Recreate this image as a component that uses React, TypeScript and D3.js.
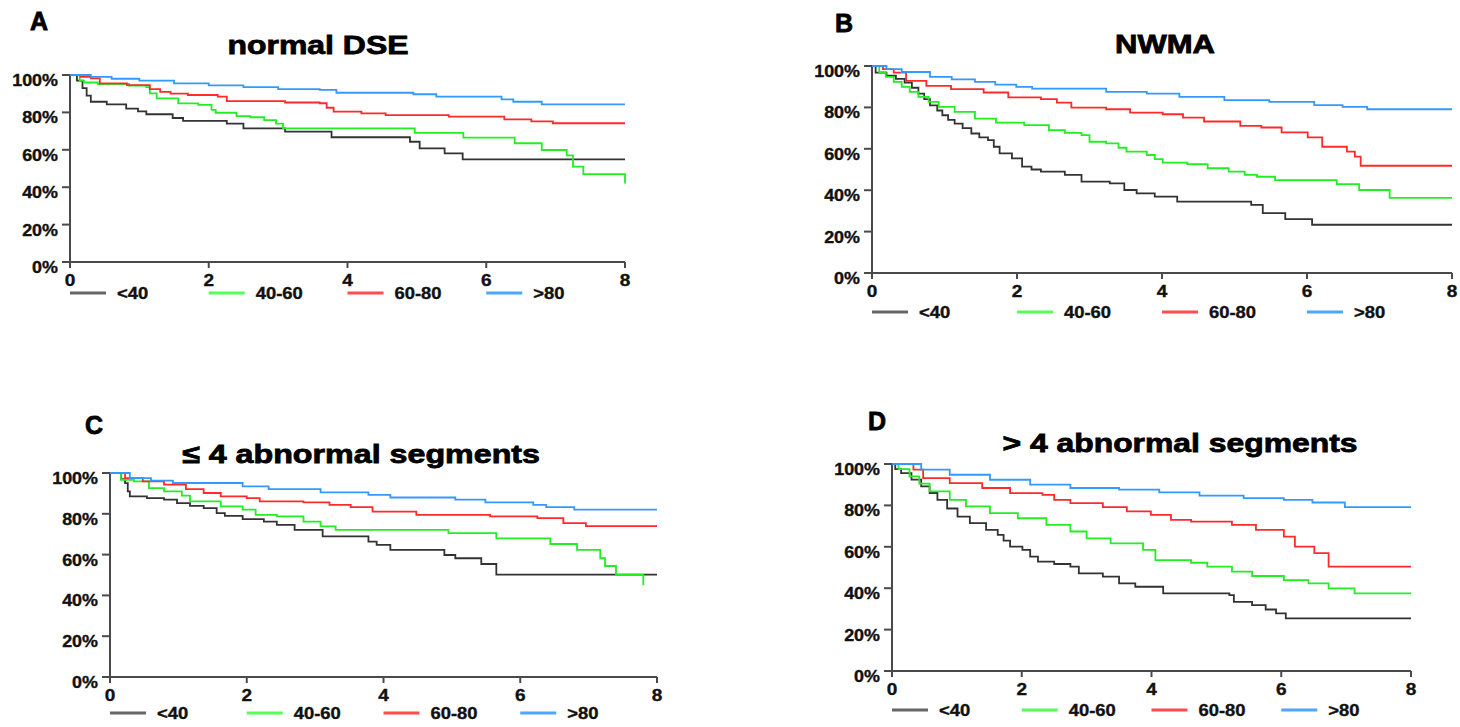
import React from 'react';
import * as d3 from 'd3';

type Pt = [number, number];

const groups = ['<40', '40-60', '60-80', '>80'];
const groupColors = ['#333333', '#22ee22', '#ff2a2a', '#3399ff'];
const legendColors = ['#666666', '#55ff55', '#ff4d4d', '#4da6ff'];
const xTicks = [0, 2, 4, 6, 8];
const yTicks = [0, 20, 40, 60, 80, 100];

// panel A - normal DSE
const aLt40: Pt[] = [[0, 100], [0.1, 97], [0.18, 93], [0.24, 89], [0.3, 85.7], [0.53, 84.3], [0.81, 82], [0.98, 80.5], [1.1, 79], [1.48, 77], [1.63, 75.5], [2.26, 74], [2.5, 71.5], [3.1, 69.7], [3.77, 66.7], [4.9, 64.3], [5.04, 60.8], [5.4, 58.1], [5.66, 54.9], [8, 54.9]];
const a40to60: Pt[] = [[0, 100], [0.14, 97], [0.2, 96], [0.4, 95.2], [0.85, 94.3], [1.1, 93.5], [1.15, 90.2], [1.25, 87.5], [1.56, 84.8], [1.85, 84], [2.04, 81.3], [2.1, 79.8], [2.4, 78], [2.6, 77.4], [2.8, 75.9], [2.97, 74], [3.07, 71.5], [4.97, 69.1], [5.67, 66.5], [6.41, 63.5], [6.8, 59.9], [7.16, 57], [7.25, 51], [7.4, 47], [8, 42]];
const a60to80: Pt[] = [[0, 100], [0.15, 99], [0.3, 98.2], [0.43, 95.5], [0.82, 94.6], [1.15, 92.5], [1.3, 91], [1.45, 90], [1.7, 89.3], [2.13, 88.4], [2.26, 86], [3.1, 85.3], [3.6, 84.9], [3.7, 82.5], [3.8, 80.4], [4.2, 79.5], [4.55, 78.5], [5.46, 77.7], [6.26, 76.3], [6.65, 75.2], [6.96, 74.2], [8, 74.2]];
const aGt80: Pt[] = [[0, 100], [0.3, 99], [0.6, 98], [1.0, 97], [1.5, 95.5], [2.0, 94.5], [2.5, 93.5], [3.0, 92.5], [3.6, 92], [3.84, 90.5], [4.95, 89.7], [5.28, 88.4], [6.22, 87], [6.39, 85.7], [6.8, 84.3], [8, 84.3]];

// panel B - NWMA
const bLt40: Pt[] = [[0, 100], [0.05, 96.8], [0.2, 95.3], [0.33, 93.8], [0.45, 92], [0.55, 89.5], [0.64, 86.7], [0.72, 84], [0.8, 81], [0.9, 78.5], [0.97, 76.2], [1.05, 74], [1.14, 72.2], [1.25, 70], [1.37, 67.4], [1.48, 65.5], [1.6, 64.2], [1.68, 61], [1.76, 57.8], [1.93, 55.4], [2.07, 51.4], [2.2, 50], [2.33, 49], [2.66, 47.4], [2.89, 44.1], [3.28, 43.3], [3.48, 40.1], [3.65, 38.5], [3.9, 36.9], [4.21, 34.5], [5.23, 32.9], [5.39, 28.9], [5.7, 26], [6.07, 23.3], [8, 23.3]];
const b40to60: Pt[] = [[0, 100], [0.1, 97], [0.19, 94.7], [0.3, 92.3], [0.41, 89.9], [0.52, 87.5], [0.64, 85.1], [0.78, 82.7], [0.92, 80.3], [1.14, 77.8], [1.42, 74.6], [1.71, 72.6], [2.1, 71.4], [2.44, 69], [2.66, 67.7], [2.89, 66.6], [3.0, 63.4], [3.23, 62.6], [3.4, 60.5], [3.51, 58.6], [3.79, 57], [3.9, 55], [4.01, 53.3], [4.35, 52.6], [4.63, 50.6], [4.92, 49], [5.14, 47.4], [5.31, 46.5], [5.56, 44.9], [6.41, 42.9], [6.72, 40.1], [7.14, 36.3], [8, 36.3]];
const b60to80: Pt[] = [[0, 100], [0.15, 98.5], [0.3, 96.8], [0.47, 92.8], [0.75, 90.4], [1.09, 88.8], [1.54, 87.2], [1.88, 84.8], [2.33, 84], [2.55, 82.3], [2.75, 79.9], [3.23, 79.1], [3.56, 77.5], [4.01, 76.7], [4.29, 75.1], [4.58, 73.2], [5.08, 71.1], [5.37, 70.3], [5.65, 67.9], [6.01, 65.5], [6.21, 61], [6.55, 58.6], [6.66, 56.2], [6.74, 51.8], [8, 51.8]];
const bGt80: Pt[] = [[0, 100], [0.2, 98.5], [0.41, 97.1], [0.8, 94.7], [1.1, 93.5], [1.42, 92.3], [1.7, 91], [1.99, 89.9], [2.21, 89.1], [3.23, 87.5], [3.79, 86.7], [4.24, 85.1], [4.86, 83.5], [5.48, 82.7], [6.1, 81.1], [6.49, 80.3], [6.83, 79.1], [8, 79.1]];

// panel C - <= 4 abnormal segments
const cLt40: Pt[] = [[0, 100], [0.16, 97], [0.22, 95], [0.26, 91], [0.29, 88.5], [0.54, 87.7], [0.79, 86.9], [0.98, 85.2], [1.17, 83.9], [1.37, 82.8], [1.56, 80.3], [1.68, 79], [1.94, 77.4], [2.25, 76.2], [2.44, 74.6], [2.7, 72.1], [3.11, 68.9], [3.78, 66.4], [3.9, 64.8], [4.1, 62.3], [4.89, 59.8], [5.05, 58.2], [5.43, 55.4], [5.65, 50.2], [8, 50.2]];
const c40to60: Pt[] = [[0, 100], [0.16, 96.7], [0.35, 95.9], [0.57, 92.6], [0.79, 91], [1.05, 88.9], [1.17, 86.1], [1.62, 83.6], [1.94, 82], [2.13, 79.5], [2.44, 78.7], [2.83, 76.2], [3.08, 73.8], [3.3, 72.1], [4.95, 70.5], [5.65, 68], [6.44, 65.2], [6.83, 62.3], [7.17, 58.2], [7.24, 54.4], [7.4, 50.2], [7.8, 45]];
const c60to80: Pt[] = [[0, 100], [0.22, 97.5], [0.48, 95.9], [0.79, 94.3], [1.11, 92.1], [1.37, 90.2], [1.62, 88.5], [2.0, 87.7], [2.19, 86.1], [2.83, 85.6], [3.21, 84.4], [3.52, 83.3], [3.84, 81.1], [4.48, 79.5], [5.56, 78.7], [6.25, 77.9], [6.63, 75.4], [6.96, 74], [8, 74]];
const cGt80: Pt[] = [[0, 100], [0.29, 97.5], [0.6, 96.3], [0.92, 95.1], [1.94, 93.4], [2.32, 92.1], [3.08, 90.5], [3.78, 89.3], [4.1, 88], [5.05, 86.9], [5.49, 85.6], [6.19, 84.4], [6.38, 83.3], [6.79, 82], [8, 82]];

// panel D - > 4 abnormal segments
const dLt40: Pt[] = [[0, 100], [0.05, 97.5], [0.14, 95.6], [0.3, 92.5], [0.45, 89.2], [0.58, 86], [0.7, 82.7], [0.85, 78.5], [1.01, 74.6], [1.2, 71.4], [1.45, 68.2], [1.63, 65.8], [1.72, 63], [1.82, 60.1], [2.01, 58.5], [2.13, 55.3], [2.25, 52.8], [2.5, 51.7], [2.75, 50.4], [2.88, 47.2], [3.25, 45.6], [3.5, 42.3], [3.75, 40.7], [4.18, 37.5], [5.2, 36.7], [5.27, 33.4], [5.55, 31.8], [5.76, 29.7], [5.92, 27.8], [6.07, 25.4], [8, 25.4]];
const d40to60: Pt[] = [[0, 100], [0.1, 97.5], [0.27, 94], [0.42, 90.5], [0.58, 86.8], [0.89, 82.7], [1.14, 79.5], [1.51, 76.3], [1.94, 73.8], [2.38, 70.6], [2.75, 67.4], [3.0, 64.1], [3.37, 61.7], [3.87, 58.5], [4.06, 53.6], [4.61, 52.3], [4.86, 50.4], [5.24, 48], [5.55, 45.9], [6.04, 43.9], [6.42, 42.3], [6.73, 39.9], [7.13, 37.5], [8, 37.5]];
const d60to80: Pt[] = [[0, 100], [0.33, 97.3], [0.48, 93.2], [0.89, 90.8], [1.39, 88.4], [1.82, 85.9], [2.32, 85.1], [2.5, 82.7], [2.75, 81.1], [3.25, 79.2], [3.62, 77.1], [3.99, 75.4], [4.3, 73], [4.61, 72.2], [5.24, 70.6], [5.61, 68.2], [6.04, 64.9], [6.21, 60.1], [6.51, 56.9], [6.73, 50.4], [8, 50.4]];
const dGt80: Pt[] = [[0, 100], [0.45, 97.3], [0.89, 94.8], [1.51, 92.4], [2.13, 90], [2.75, 88.4], [3.5, 87.6], [4.12, 86.3], [4.74, 84.7], [5.42, 83.5], [6.04, 82.7], [6.48, 81.4], [6.98, 79.2], [8, 79.2]];

const panels = [
  { letter: 'A', title: 'normal DSE', series: [aLt40, a40to60, a60to80, aGt80],
    left: 70, right: 625, top: 75, bottom: 262, lx: 30, ly: 30, tx: 318, ty: 54, tw: 181, legY: 293 },
  { letter: 'B', title: 'NWMA', series: [bLt40, b40to60, b60to80, bGt80],
    left: 872, right: 1452, top: 66, bottom: 273, lx: 835, ly: 32, tx: 1165, ty: 53, tw: 100, legY: 312 },
  { letter: 'C', title: '≤ 4 abnormal segments', series: [cLt40, c40to60, c60to80, cGt80],
    left: 110, right: 657, top: 473, bottom: 677, lx: 85, ly: 434, tx: 361, ty: 463, tw: 358, legY: 713 },
  { letter: 'D', title: '> 4 abnormal segments', series: [dLt40, d40to60, d60to80, dGt80],
    left: 892, right: 1411, top: 464, bottom: 671, lx: 868, ly: 430, tx: 1180, ty: 452, tw: 355, legY: 710 },
];

const font = '"Liberation Sans", Arial, sans-serif';
const axisColor = '#4a4a4a';

// text that is widened a little, the source figure has stretched lettering
function Wide({ x, y, sx, anchor, size, children }:
  { x: number; y: number; sx: number; anchor?: string; size: number; children: React.ReactNode }) {
  return (
    <text transform={`translate(${x},${y}) scale(${sx},1)`} fontSize={size}
      textAnchor={anchor || 'start'} fill="#111" stroke="#111" strokeWidth={0.35}>{children}</text>
  );
}

function Panel({ p }: { p: typeof panels[number] }) {
  const x = d3.scaleLinear().domain([0, 8]).range([p.left, p.right]);
  const y = d3.scaleLinear().domain([0, 100]).range([p.bottom, p.top]);
  const line = d3.line<Pt>().x(d => x(d[0])).y(d => y(d[1])).curve(d3.curveStepAfter);
  const slot = (p.right - p.left) / 4;

  return (
    <g fontFamily={font} fontWeight="bold">
      <text x={p.lx} y={p.ly} fontSize={25} fill="#000" stroke="#000" strokeWidth={0.8}>{p.letter}</text>
      <text x={p.tx} y={p.ty} fontSize={26} textAnchor="middle" fill="#000" stroke="#000" strokeWidth={0.8}
        textLength={p.tw} lengthAdjust="spacingAndGlyphs">{p.title}</text>

      {/* y axis */}
      <line x1={x(0)} x2={x(0)} y1={y(100)} y2={y(0)} stroke={axisColor} strokeWidth={2} />
      {yTicks.map(t => (
        <g key={'y' + t}>
          <line x1={x(0) - 8} x2={x(0)} y1={y(t)} y2={y(t)} stroke={axisColor} strokeWidth={2} />
          <Wide x={x(0) - 12} y={y(t) + 11} sx={1.12} anchor="end" size={16}>{t}%</Wide>
        </g>
      ))}

      {/* x axis */}
      <line x1={x(0) - 8} x2={x(8)} y1={y(0)} y2={y(0)} stroke={axisColor} strokeWidth={2} />
      {xTicks.map(t => (
        <g key={'x' + t}>
          <line x1={x(t)} x2={x(t)} y1={y(0)} y2={y(0) + 6} stroke={axisColor} strokeWidth={2} />
          <Wide x={x(t)} y={y(0) + 24} sx={1.12} anchor="middle" size={17}>{t}</Wide>
        </g>
      ))}

      {/* curves */}
      {p.series.map((s, i) => (
        <path key={'s' + i} d={line(s) || ''} fill="none" stroke={groupColors[i]} strokeWidth={1.8} />
      ))}

      {/* legend */}
      {groups.map((g, i) => (
        <g key={'l' + i}>
          <line x1={p.left + i * slot} x2={p.left + i * slot + 36} y1={p.legY} y2={p.legY}
            stroke={legendColors[i]} strokeWidth={3} />
          <Wide x={p.left + i * slot + 47} y={p.legY + 6} sx={1.15} size={16}>{g}</Wide>
        </g>
      ))}
    </g>
  );
}

export default function App() {
  return (
    <svg width={1460} height={727} style={{ position: 'absolute', left: 0, top: 0, background: '#fff' }}>
      <rect width={1460} height={727} fill="#fff" />
      {panels.map(p => <Panel key={p.letter} p={p} />)}
    </svg>
  );
}
